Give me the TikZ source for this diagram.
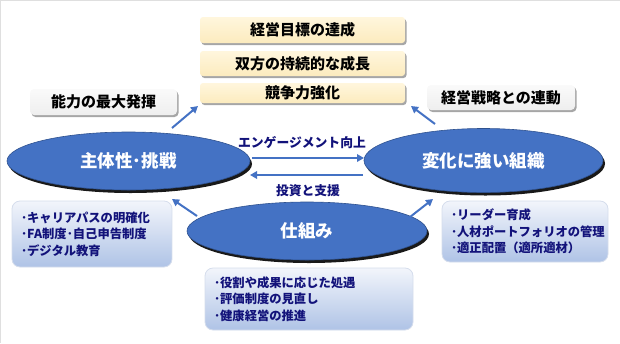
\documentclass[tikz,border=0pt]{standalone}
\usepackage{fontspec}
\setmainfont{Noto Sans CJK JP}
\usetikzlibrary{shapes.geometric,arrows.meta,shadows}
\definecolor{eblue}{HTML}{4472C4}
\definecolor{eedge}{HTML}{2F528F}
\definecolor{navy}{HTML}{12127A}
\definecolor{creamtop}{HTML}{FFF6DD}
\definecolor{creambot}{HTML}{FCEBBE}
\definecolor{listtop}{HTML}{F2F5FB}
\definecolor{listbot}{HTML}{AFC3E6}
\definecolor{listedge}{HTML}{D5DDEC}
\begin{document}
\begin{tikzpicture}[x=1pt,y=-1pt,
  goalbox/.style={rounded corners=3pt, top color=creamtop, bottom color=creambot,
    minimum width=205pt, inner sep=0pt,
    drop shadow={shadow xshift=1.5pt, shadow yshift=-2pt, fill=black, opacity=0.35},
    font=\fontsize{15}{17}\selectfont\bfseries, text=black},
  graybox/.style={rounded corners=4pt, top color=gray!4, bottom color=gray!13,
    inner sep=0pt,
    drop shadow={shadow xshift=1.5pt, shadow yshift=-2pt, fill=black, opacity=0.35},
    font=\fontsize{15}{17}\selectfont\bfseries, text=black},
  oval/.style={ellipse, inner sep=0pt, fill=eblue, draw=eedge, line width=0.6pt,
    drop shadow={shadow xshift=2pt, shadow yshift=-3pt, fill=black, opacity=0.9},
    font=\fontsize{17.5}{19}\selectfont\bfseries, text=white},
  listbox/.style={rounded corners=8pt, top color=listtop, bottom color=listbot,
    draw=listedge, line width=0.8pt, inner xsep=9pt, inner ysep=0pt, align=left,
    font=\fontsize{12.3}{16.5}\selectfont\bfseries, text=navy},
  arr/.style={draw=eblue, line width=2pt, -{Triangle[length=7pt,width=7.5pt]}},
  lbl/.style={font=\fontsize{12.8}{14}\selectfont\bfseries, text=navy, inner sep=0pt}]
\useasboundingbox (0,0) rectangle (620,343);
\draw[gray!25, line width=1pt] (0,0.5) -- (620,0.5);
\draw[gray!25, line width=1pt] (0.5,0) -- (0.5,343);

% goals
\node[goalbox, minimum height=26pt] (g1) at (302.5,30) {経営目標の達成};
\node[goalbox, minimum height=25pt] (g2) at (302.5,63.5) {双方の持続的な成長};
\node[goalbox, minimum height=20pt] (g3) at (302.5,93) {競争力強化};

% side outcome boxes
\node[graybox, minimum width=147pt, minimum height=26pt] (p1) at (103.5,102) {能力の最大発揮};
\node[graybox, minimum width=148pt, minimum height=25pt] (p2) at (501,97.5) {経営戦略との連動};

% ellipses
\node[oval, minimum width=243pt, minimum height=58pt] (L) at (128.5,161) {主体性･挑戦};
\node[oval, minimum width=239pt, minimum height=64pt] (R) at (483.5,160.5) {変化に強い組織};
\node[oval, minimum width=240pt, minimum height=58pt] (B) at (307,231) {仕組み};

% list boxes
\node[listbox, minimum width=160pt, minimum height=66pt, text width=142pt] (ll) at (92,234)
  {･キャリアパスの明確化\\･FA制度･自己申告制度\\･デジタル教育};
\node[listbox, minimum width=166pt, minimum height=61pt, text width=148pt] (rl) at (525,231.5)
  {･リーダー育成\\･人材ポートフォリオの管理\\･適正配置（適所適材）};
\node[listbox, minimum width=208pt, minimum height=62pt, text width=190pt] (bl) at (309,299)
  {･役割や成果に応じた処遇\\･評価制度の見直し\\･健康経営の推進};

% diagonal arrow endpoints
\coordinate (a1s) at (172,128); \coordinate (a1e) at (198,106);
\coordinate (a2s) at (435,124); \coordinate (a2e) at (411,106);
\coordinate (a3s) at (197,216); \coordinate (a3e) at (172,199);
\coordinate (a4s) at (410,217); \coordinate (a4e) at (433,199);
\draw[arr] (a1s) -- (a1e);
\draw[arr] (a2s) -- (a2e);
\draw[arr] (a3s) -- (a3e);
\draw[arr] (a4s) -- (a4e);

% horizontal arrows between ovals
\coordinate (h1s) at (252,158); \coordinate (h1e) at (364,158);
\coordinate (h2s) at (363,175); \coordinate (h2e) at (250,175);
\draw[arr] (h1s) -- (h1e);
\draw[arr] (h2s) -- (h2e);

\node[lbl] (t1) at (302,143) {エンゲージメント向上};
\node[lbl] (t2) at (308,191) {投資と支援};
\end{tikzpicture}
\end{document}
